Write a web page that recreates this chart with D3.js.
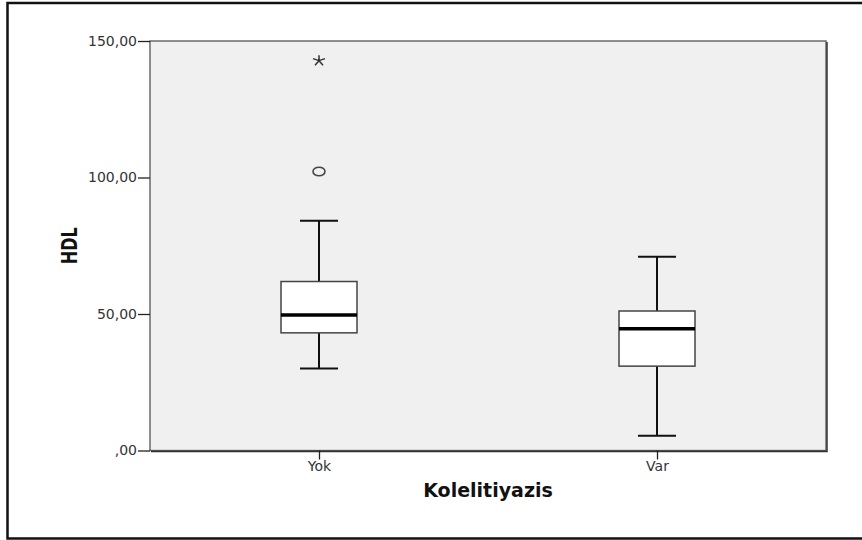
<!DOCTYPE html>
<html>
<head>
<meta charset="utf-8">
<script src="https://cdn.jsdelivr.net/npm/d3@7"></script>
<style>
  body { margin: 0; background: #fff; }
  text { font-family: "DejaVu Sans", Arial, sans-serif; }
</style>
</head>
<body>
<div id="chart"></div>
<script>
// groups on the x axis
const categories = ["Yok", "Var"];
// five-number summaries
const whiskerLow  = [30, 5.4];
const q1          = [43.1, 30.9];
const medians     = [49.6, 44.6];
const q3          = [61.9, 51.1];
const whiskerHigh = [84.2, 71];
// outliers: circle = mild, star = extreme
const outliers = [
  { group: "Yok", value: 102.2, kind: "circle" },
  { group: "Yok", value: 142.8, kind: "star" }
];
const yTicks = [0, 50, 100, 150];

const w = 862, h = 540;
const margin = { left: 150, top: 41, right: 36, bottom: 90 };

let svg = d3.select("#chart").append("svg")
  .attr("width", w).attr("height", h);

// outer frame (right side cropped in the original)
svg.append("path")
  .attr("d", `M${w + 2},3 H7.5 V538.5 H${w + 2}`)
  .attr("fill", "none").attr("stroke", "#111").attr("stroke-width", 2.5);

const x = d3.scalePoint().domain(categories)
  .range([margin.left, w - margin.right]).padding(0.5);
const y = d3.scaleLinear().domain([0, 150])
  .range([h - margin.bottom + 0.5, margin.top]);

//plot background
svg.append("rect")
  .attr("x", margin.left).attr("y", margin.top)
  .attr("width", w - margin.right - margin.left)
  .attr("height", y(0) - margin.top)
  .attr("fill", "#f0f0f0")
  .attr("stroke", "#555").attr("stroke-width", 1.3);
// shadow on right and bottom
svg.append("path")
  .attr("d", `M${w - margin.right + 1},${margin.top + 1} V${y(0) + 1} H${margin.left + 1}`)
  .attr("fill", "none").attr("stroke", "#333").attr("stroke-width", 1.5);

const fmt = d => d === 0 ? ",00" : d3.format(".2f")(d).replace(".", ",");

svg.append("g")
  .attr("transform", `translate(${margin.left},0)`)
  .call(d3.axisLeft(y).tickValues(yTicks).tickFormat(fmt).tickSize(12).tickSizeOuter(0))
  .call(g => g.select(".domain").remove())
  .call(g => g.selectAll("line").attr("stroke", "#222").attr("stroke-width", 1.3))
  .call(g => g.selectAll("text").attr("font-size", 14).attr("fill", "#333").attr("x", -13));

svg.append("g")
  .attr("transform", `translate(0,${y(0)})`)
  .call(d3.axisBottom(x).tickSize(9).tickSizeOuter(0))
  .call(g => g.select(".domain").remove())
  .call(g => g.selectAll("line").attr("stroke", "#222").attr("stroke-width", 1.3))
  .call(g => g.selectAll("text").attr("font-size", 14).attr("fill", "#333").attr("y", 11));

const boxW = 76, capW = 38;
const boxes = categories.map((c, i) => ({
  c, lo: whiskerLow[i], q1: q1[i], med: medians[i], q3: q3[i], hi: whiskerHigh[i]
}));

let bg = svg.selectAll(".box").data(boxes).join("g").attr("class", "box");

bg.append("line")
  .attr("x1", d => x(d.c)).attr("x2", d => x(d.c))
  .attr("y1", d => y(d.lo)).attr("y2", d => y(d.hi))
  .attr("stroke", "#111").attr("stroke-width", 2);
bg.selectAll(".cap").data(d => [d.lo, d.hi].map(v => ({ c: d.c, v }))).join("line")
  .attr("x1", d => x(d.c) - capW / 2).attr("x2", d => x(d.c) + capW / 2)
  .attr("y1", d => y(d.v)).attr("y2", d => y(d.v))
  .attr("stroke", "#111").attr("stroke-width", 2);
bg.append("rect")
  .attr("x", d => x(d.c) - boxW / 2).attr("width", boxW)
  .attr("y", d => y(d.q3)).attr("height", d => y(d.q1) - y(d.q3))
  .attr("fill", "#fff").attr("stroke", "#444").attr("stroke-width", 1.5);
bg.append("line")
  .attr("x1", d => x(d.c) - boxW / 2).attr("x2", d => x(d.c) + boxW / 2)
  .attr("y1", d => y(d.med)).attr("y2", d => y(d.med))
  .attr("stroke", "#000").attr("stroke-width", 3.5);

// outliers (original picture is stretched sideways, so marks are wider than tall)
let og = svg.selectAll(".out").data(outliers).join("g")
  .attr("class", "out")
  .attr("transform", d => `translate(${x(d.group)},${y(d.value)})`);
og.filter(d => d.kind === "circle").append("ellipse")
  .attr("rx", 6).attr("ry", 4.3)
  .attr("fill", "none").attr("stroke", "#444").attr("stroke-width", 1.6);
og.filter(d => d.kind === "star").append("path")
  .attr("d", "M0,-5.5 V0 M0,0 L-6,-2 M0,0 L6,-2 M0,0 L-4,4.5 M0,0 L4,4.5")
  .attr("fill", "none").attr("stroke", "#333").attr("stroke-width", 1.5);

// axis titles
svg.append("text")
  .attr("x", (margin.left + w - margin.right) / 2).attr("y", 497)
  .attr("text-anchor", "middle").attr("font-size", 19).attr("font-weight", "bold")
  .attr("fill", "#111").text("Kolelitiyazis");
svg.append("text")
  .attr("transform", `translate(77,${(margin.top + y(0)) / 2}) rotate(-90) scale(1,1.3)`)
  .attr("text-anchor", "middle").attr("font-size", 16).attr("font-weight", "bold")
  .attr("fill", "#111").text("HDL");
</script>
</body>
</html>
